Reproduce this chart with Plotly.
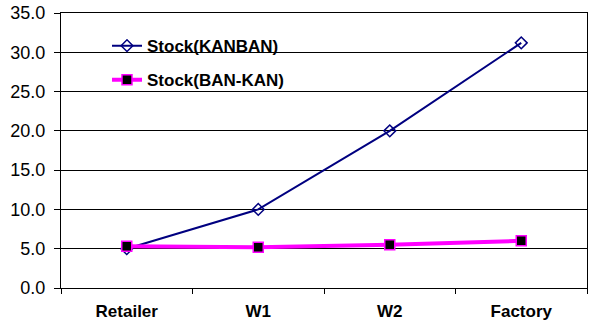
import plotly.graph_objects as go

# Supply chain stages and stock levels per control policy
stages = ["Retailer", "W1", "W2", "Factory"]
stock_kanban = [5.0, 10.0, 20.0, 31.2]
stock_bankan = [5.3, 5.2, 5.5, 6.0]
y_ticks = [0, 5, 10, 15, 20, 25, 30, 35]

FONT = "Liberation Sans, Arial, sans-serif"

fig = go.Figure()
fig.add_trace(go.Scatter(
    x=stages, y=stock_kanban, name="<b>Stock(KANBAN)</b>",
    mode="lines+markers", legendgroup="a",
    line=dict(color="#000080", width=2),
    marker=dict(symbol="diamond-open", size=9, color="#000080",
                line=dict(width=1.5, color="#000080")),
))
fig.add_trace(go.Scatter(
    x=stages, y=stock_bankan, name="<b>Stock(BAN-KAN)</b>",
    mode="lines+markers", legendgroup="b",
    line=dict(color="#FF00FF", width=4),
    marker=dict(symbol="square", size=10, color="#000000",
                line=dict(width=1.5, color="#FF00FF")),
))

# white panel behind the legend, above the gridlines
fig.add_shape(
    type="rect", xref="paper", yref="paper",
    x0=(79 - 61) / 526, x1=(297 - 61) / 526,
    y0=1 - (96 - 13) / 275, y1=1 - (22 - 13) / 275,
    fillcolor="white", line=dict(width=0), layer="between",
)

fig.update_layout(
    width=589, height=323,
    margin=dict(l=61, r=2, t=13, b=35),
    paper_bgcolor="white", plot_bgcolor="white",
    font=dict(family=FONT, size=17, color="black"),
    showlegend=True,
    legend=dict(
        x=(107 - 61) / 526, y=0.945, xanchor="left", yanchor="top",
        bgcolor="rgba(0,0,0,0)", borderwidth=0,
        font=dict(family=FONT, size=17, color="black"),
        traceorder="grouped", tracegroupgap=9,
    ),
)
fig.update_xaxes(
    type="category", range=[-0.5, 3.5], automargin=False,
    tickson="boundaries", ticks="outside", ticklen=5, tickcolor="black",
    showline=True, linecolor="black", linewidth=1, mirror=True,
    showgrid=False, tickfont=dict(family=FONT, size=17, color="black"),
    tickvals=stages, ticktext=[f"<b>{s}</b>" for s in stages],
    ticklabelstandoff=8,
)
fig.update_yaxes(
    range=[0, 35], tickvals=y_ticks, tickformat=".1f", automargin=False,
    ticks="outside", ticklen=6, tickcolor="black",
    showline=True, linecolor="black", linewidth=1, mirror=True,
    showgrid=True, gridcolor="black", gridwidth=1, zeroline=False,
    tickfont=dict(family=FONT, size=18, color="black"),
    ticklabelstandoff=5,
)

fig.write_html("out.html")
